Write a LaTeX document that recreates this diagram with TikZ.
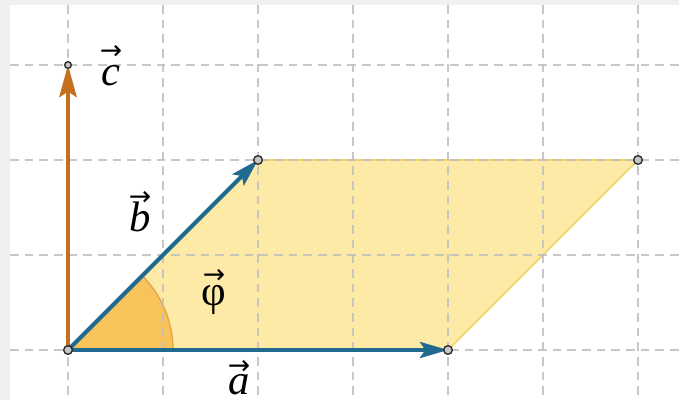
\documentclass[tikz,border=0pt]{standalone}
\usepackage{fontspec}
\setmainfont{Liberation Serif}
\newfontfamily\arrowf{DejaVu Sans}
\usetikzlibrary{arrows.meta}
\definecolor{vblue}{HTML}{1F6A8E}
\definecolor{vorange}{HTML}{C4701E}
\definecolor{pfill}{HTML}{FDEAA6}
\definecolor{pedge}{HTML}{F2D566}
\definecolor{sfill}{HTML}{F9C35C}
\definecolor{sedge}{HTML}{E3A646}
\definecolor{frame}{HTML}{EEF0F1}
% #1 = raise of arrow, #2 = letter
\newcommand\vlab[2]{\setbox0\hbox{#2}\rlap{\makebox[\wd0]{\raisebox{#1}{\arrowf\fontsize{20}{20}\selectfont →}}}\box0}
\tikzset{
  gridline/.style={draw=gray!50, line width=1.1pt, dash pattern=on 6.5pt off 4.5pt, opacity=0.85},
  vecblue/.style={draw=vblue, line width=3pt, -{Stealth[length=21pt,width=12pt,inset=4pt]}},
  vecorange/.style={draw=vorange, line width=3pt, -{Stealth[length=24pt,width=13pt,inset=4pt]}},
  dotpt/.style={circle, draw=black!85, fill=gray!45, line width=1pt, inner sep=0pt, minimum size=6.5pt},
  lbl/.style={font=\fontsize{32}{36}\selectfont, inner sep=0pt, anchor=base}
}
\begin{document}
\begin{tikzpicture}[x=0.75pt,y=-0.75pt]
\useasboundingbox (0,0) rectangle (679,400);
\fill[white] (0,0) rectangle (679,400);
\fill[frame] (0,0) rectangle (679,5);
\fill[frame] (0,0) rectangle (10,400);
\coordinate (O) at (68,350);
\coordinate (A) at (448,350);
\coordinate (B) at (258,160);
\coordinate (C) at (68,65);
\coordinate (D) at (638,160);
% parallelogram
\fill[pfill] (O) -- (A) -- (D) -- (B) -- cycle;
\draw[pedge, line width=1.2pt] (B) -- (D) -- (A);
% angle sector
\fill[sfill] (O) -- ++(105,0) arc[start angle=0,end angle=-45,radius=105] -- cycle;
\draw[sedge, line width=1pt] (O) ++(105,0) arc[start angle=0,end angle=-45,radius=105];
% grid
\foreach \gx in {68,163,258,353,448,543,638}
  \draw[gridline] (\gx,5) -- (\gx,400);
\foreach \gy in {65,160,255,350}
  \draw[gridline] (10,\gy) -- (679,\gy);
% vectors
\draw[vecorange] (O) -- (C);
\draw[vecblue] (O) -- (B);
\draw[vecblue] (O) -- (A);
% points
\node[dotpt] (pO) at (O) {};
\node[dotpt] (pA) at (A) {};
\node[dotpt] (pB) at (B) {};
\node[dotpt, minimum size=5pt] (pC) at (C) {};
\node[dotpt] (pD) at (D) {};
% labels
\node[lbl] (lc) at (111,85) {\vlab{19pt}{\itshape c}};
\node[lbl] (lb) at (140,231) {\vlab{19.5pt}{\itshape b}};
\node[lbl] (lphi) at (214,305) {\vlab{16pt}{φ}};
\node[lbl] (la) at (239,394) {\vlab{14.5pt}{\itshape a}};
\end{tikzpicture}
\end{document}
